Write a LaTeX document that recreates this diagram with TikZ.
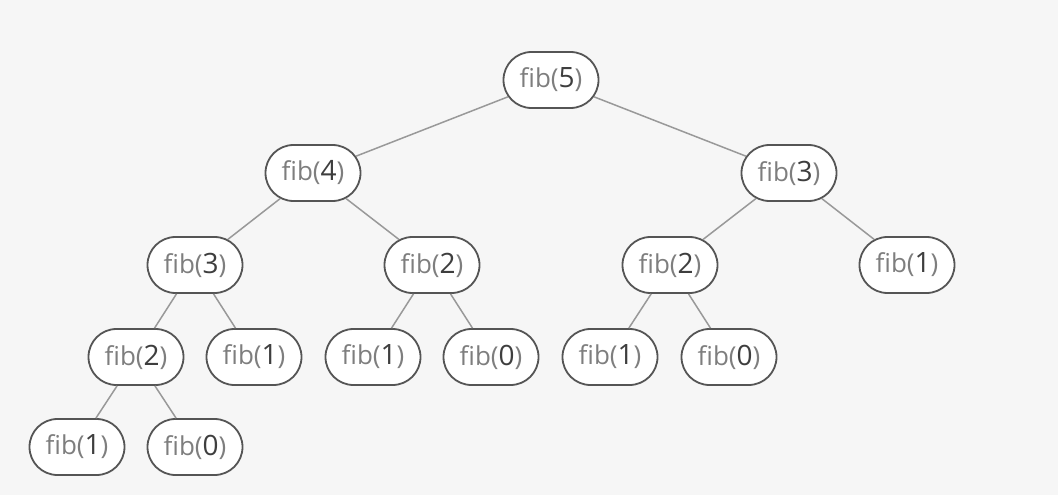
\documentclass[tikz,border=0pt]{standalone}
\usepackage{fontspec}
\setmainfont{Open Sans}
\usetikzlibrary{shapes.misc}
\definecolor{bg}{HTML}{F6F6F6}
\definecolor{rim}{HTML}{555555}
\definecolor{wire}{HTML}{999999}
\definecolor{fname}{HTML}{7E7E7E}
\definecolor{farg}{HTML}{3E3E3E}
\newcommand{\fibcall}[1]{\fontsize{26}{30}\selectfont\textcolor{fname}{fib(}{\fontsize{28}{30}\selectfont\textcolor{farg}{#1}}\textcolor{fname}{)}}
\tikzset{
  call/.style={rounded rectangle, draw=rim, line width=1.8pt, fill=white,
    minimum width=95pt, minimum height=56pt, inner sep=0pt},
  link/.style={draw=wire, line width=1.5pt}
}
\begin{document}
\begin{tikzpicture}[x=1pt,y=-1pt]
\fill[bg] (0,0) rectangle (1058,495);
\useasboundingbox (0,0) rectangle (1058,495);
% level 0
\node[call] (n5) at (551,80) {\fibcall{5}};
% level 1
\node[call] (n4) at (313,173) {\fibcall{4}};
\node[call] (n3r) at (789,173) {\fibcall{3}};
% level 2
\node[call] (n3) at (195,265) {\fibcall{3}};
\node[call] (n2a) at (432,265) {\fibcall{2}};
\node[call] (n2b) at (670,265) {\fibcall{2}};
\node[call] (n1r) at (907,265) {\fibcall{1}};
% level 3
\node[call] (n2c) at (136,357) {\fibcall{2}};
\node[call] (n1a) at (254,357) {\fibcall{1}};
\node[call] (n1b) at (373,357) {\fibcall{1}};
\node[call] (n0a) at (491,357) {\fibcall{0}};
\node[call] (n1c) at (610,357) {\fibcall{1}};
\node[call] (n0b) at (729,357) {\fibcall{0}};
% level 4
\node[call] (n1d) at (77,447) {\fibcall{1}};
\node[call] (n0c) at (195,447) {\fibcall{0}};
% recursion edges
\draw[link] (n5) -- (n4);
\draw[link] (n5) -- (n3r);
\draw[link] (n4) -- (n3);
\draw[link] (n4) -- (n2a);
\draw[link] (n3r) -- (n2b);
\draw[link] (n3r) -- (n1r);
\draw[link] (n3) -- (n2c);
\draw[link] (n3) -- (n1a);
\draw[link] (n2a) -- (n1b);
\draw[link] (n2a) -- (n0a);
\draw[link] (n2b) -- (n1c);
\draw[link] (n2b) -- (n0b);
\draw[link] (n2c) -- (n1d);
\draw[link] (n2c) -- (n0c);
\end{tikzpicture}
\end{document}
